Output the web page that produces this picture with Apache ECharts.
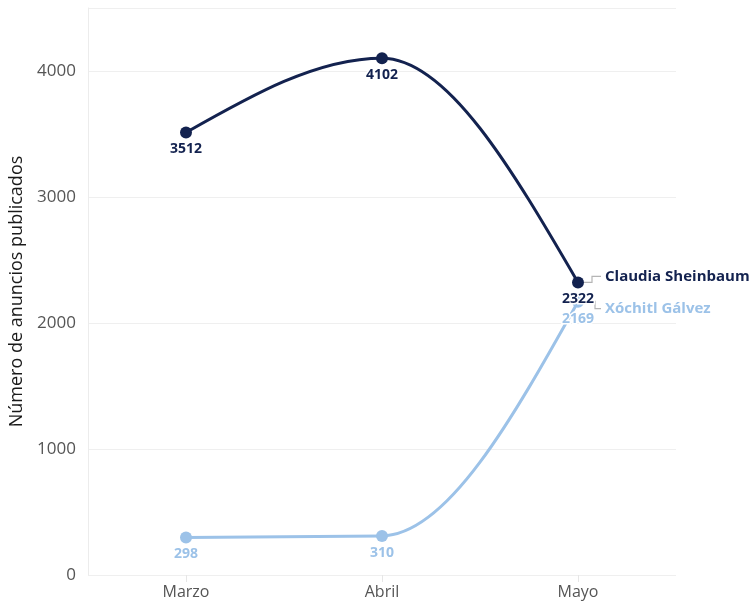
<!DOCTYPE html>
<html>
<head>
<meta charset="utf-8">
<script src="https://cdn.jsdelivr.net/npm/echarts@6/dist/echarts.min.js"></script>
<style>
  html, body { margin: 0; padding: 0; background: #ffffff; }
  #chart { width: 750px; height: 603px; }
</style>
</head>
<body>
<div id="chart"></div>
<script>
// Monthly ad counts per candidate
const months = ['Marzo', 'Abril', 'Mayo'];
const sheinbaum = [3512, 4102, 2322];
const galvez = [298, 310, 2169];
const seriesNames = ['Claudia Sheinbaum', 'Xóchitl Gálvez'];
const yTicks = [0, 1000, 2000, 3000, 4000];

const DARK = '#13224f';
const LIGHT = '#9cc2e8';
const FONT = '"Open Sans", "Noto Sans", sans-serif';

const chart = echarts.init(document.getElementById('chart'), null, { renderer: 'canvas' });

// Monotone-in-x cubic interpolation (tangents as in the classic monotoneX curve)
function sgn(v) { return v < 0 ? -1 : 1; }
function slope3(p0, p1, p2) {
  const h0 = p1[0] - p0[0], h1 = p2[0] - p1[0];
  const s0 = (p1[1] - p0[1]) / h0, s1 = (p2[1] - p1[1]) / h1;
  const p = (s0 * h1 + s1 * h0) / (h0 + h1);
  return (sgn(s0) + sgn(s1)) * Math.min(Math.abs(s0), Math.abs(s1), 0.5 * Math.abs(p)) || 0;
}
function slope2(p0, p1, t) {
  const h = p1[0] - p0[0];
  return h ? (3 * (p1[1] - p0[1]) / h - t) / 2 : t;
}
function monotoneSegments(pts) {
  const n = pts.length;
  const t = new Array(n).fill(0);
  for (let i = 1; i < n - 1; i++) t[i] = slope3(pts[i - 1], pts[i], pts[i + 1]);
  if (n > 2) {
    t[0] = slope2(pts[0], pts[1], t[1]);
    t[n - 1] = slope2(pts[n - 1], pts[n - 2], t[n - 2]);
  } else {
    t[0] = t[n - 1] = (pts[1][1] - pts[0][1]) / (pts[1][0] - pts[0][0]);
  }
  const segs = [];
  for (let i = 0; i < n - 1; i++) {
    const a = pts[i], b = pts[i + 1], dx = (b[0] - a[0]) / 3;
    segs.push({ x1: a[0], y1: a[1], cpx1: a[0] + dx, cpy1: a[1] + dx * t[i],
                cpx2: b[0] - dx, cpy2: b[1] - dx * t[i + 1], x2: b[0], y2: b[1] });
  }
  return segs;
}

function curveSeries(values, color, z) {
  return {
    type: 'custom',
    data: values.map(function (v, i) { return [i, v]; }),
    z: z,
    silent: true,
    renderItem: function (params, api) {
      if (params.dataIndex !== 0) return null;
      const pts = values.map(function (v, i) { return api.coord([i, v]); });
      return {
        type: 'group',
        children: monotoneSegments(pts).map(function (s) {
          return { type: 'bezierCurve', shape: s,
                   style: { stroke: color, lineWidth: 3, fill: null, lineCap: 'round' } };
        })
      };
    }
  };
}

function pointSeries(name, values, color, z) {
  return {
    name: name,
    type: 'scatter',
    data: values,
    z: z,
    symbol: 'circle',
    symbolSize: 12,
    itemStyle: { color: color, opacity: 1 },
    label: {
      show: true,
      position: 'bottom',
      distance: 4,
      color: color,
      fontFamily: FONT,
      fontWeight: 'bold',
      fontSize: 14,
      textBorderColor: '#ffffff',
      textBorderWidth: 3
    },
    emphasis: { disabled: true }
  };
}

chart.setOption({
  animation: false,
  grid: { left: 88, right: 74, top: 8, bottom: 28, containLabel: false, outerBoundsMode: 'none' },
  xAxis: {
    type: 'category',
    data: months,
    boundaryGap: true,
    axisLine: { show: false },
    axisTick: { show: true, alignWithLabel: true, length: 7, lineStyle: { color: '#e6e6e6' } },
    axisLabel: { color: '#555555', fontFamily: FONT, fontSize: 16, margin: 9 },
    splitLine: { show: false }
  },
  yAxis: {
    type: 'value',
    min: 0,
    max: 4500,
    interval: 1000,
    name: 'Número de anuncios publicados',
    nameLocation: 'middle',
    nameGap: 62,
    nameRotate: 90,
    nameTextStyle: { color: '#1a1a1a', fontFamily: FONT, fontSize: 18 },
    axisLine: { show: true, lineStyle: { color: '#ececec', width: 1 } },
    axisTick: { show: false },
    axisLabel: {
      color: '#555555', fontFamily: FONT, fontSize: 17, margin: 12,
      formatter: function (v) { return yTicks.indexOf(v) >= 0 ? String(v) : ''; }
    },
    splitLine: { show: true, lineStyle: { color: '#efefef', width: 1 } }
  },
  series: [
    curveSeries(galvez, LIGHT, 2),
    curveSeries(sheinbaum, DARK, 3),
    pointSeries(seriesNames[1], galvez, LIGHT, 4),
    pointSeries(seriesNames[0], sheinbaum, DARK, 5)
  ]
});

// End-of-line name labels with elbow connectors, placed from the last data point
function drawEndLabels() {
  const last = months.length - 1;
  const pA = chart.convertToPixel({ xAxisIndex: 0, yAxisIndex: 0 }, [last, sheinbaum[last]]);
  const pB = chart.convertToPixel({ xAxisIndex: 0, yAxisIndex: 0 }, [last, galvez[last]]);
  const textX = pA[0] + 27;
  const yA = pA[1] - 6;
  const yB = pB[1] + 7;
  const elbowA = pA[0] + 14;
  const elbowB = pB[0] + 17;
  const connector = { stroke: '#b5b5b5', lineWidth: 1.2, fill: null };
  chart.setOption({
    graphic: [
      { type: 'polyline', shape: { points: [[pA[0] + 6, pA[1]], [elbowA, pA[1]], [elbowA, yA], [textX - 4, yA]] }, style: connector, z: 5 },
      { type: 'polyline', shape: { points: [[elbowB, pB[1] - 1], [elbowB, yB], [textX - 4, yB]] }, style: connector, z: 5 },
      { type: 'text', x: textX, y: yA, style: { text: seriesNames[0], fill: DARK, font: 'bold 15px ' + FONT, textVerticalAlign: 'middle' }, z: 6 },
      { type: 'text', x: textX, y: yB, style: { text: seriesNames[1], fill: LIGHT, font: 'bold 15px ' + FONT, textVerticalAlign: 'middle' }, z: 6 }
    ]
  });
}
drawEndLabels();
</script>
</body>
</html>
